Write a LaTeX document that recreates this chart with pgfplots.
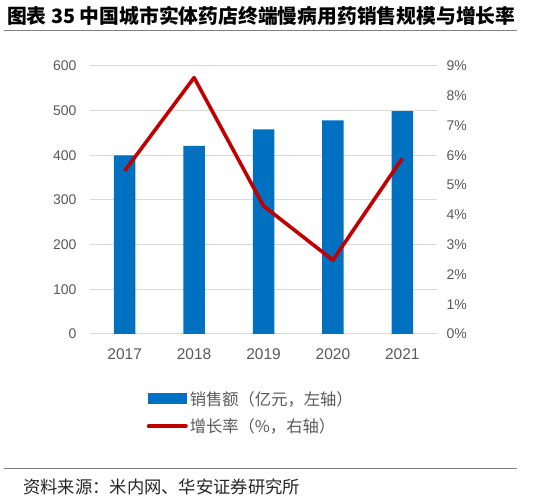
\documentclass[border=0pt]{standalone}
\usepackage{pgfplots}
\pgfplotsset{compat=1.18}
\usepackage{fontspec}
\setmainfont{Liberation Sans}
\newfontfamily\cjk{Noto Sans CJK SC}
\definecolor{barblue}{HTML}{0070C0}
\definecolor{linered}{HTML}{C00000}
\definecolor{txtgray}{HTML}{595959}
\definecolor{gridgray}{HTML}{D9D9D9}
\definecolor{rulegray}{HTML}{808080}

\begin{document}
\begin{tikzpicture}[x=1bp,y=1bp]
\path[use as bounding box] (0,0) rectangle (541,499);
% title
\node[anchor=west, inner sep=0] at (7,483) {\cjk\bfseries\fontsize{19.8bp}{24bp}\selectfont 图表 35 中国城市实体药店终端慢病用药销售规模与增长率};
\draw[rulegray, line width=1.5bp] (4,468.3) -- (517,468.3);
% source
\draw[rulegray, line width=1.5bp] (4,30.5) -- (517,30.5);
\node[anchor=west, inner sep=0, text=black!85] at (23,12.5) {\cjk\fontsize{17.3bp}{20bp}\selectfont 资料来源：米内网、华安证券研究所};

\begin{axis}[
  at={(90bp,165bp)}, anchor=south west, scale only axis,
  width=347bp, height=268bp,
  xmin=-0.5, xmax=4.5, ymin=0, ymax=600,
  xtick={0,1,2,3,4}, xticklabels={2017,2018,2019,2020,2021},
  ytick={0,100,...,600},
  ymajorgrids, grid style={gridgray, line width=1bp},
  axis line style={draw=none}, tick style={draw=none}, major tick length=0pt,
  /pgf/number format/assume math mode=true,
  yticklabel style={font=\fontsize{14bp}{16bp}\selectfont, text=txtgray, xshift=-10bp},
  xticklabel style={font=\fontsize{15.5bp}{18bp}\selectfont, text=txtgray, yshift=-11bp},
  legend style={at={(0.163,-0.205)}, anchor=north west, draw=none, fill=none,
    font=\cjk\fontsize{16.3bp}{18bp}\selectfont, text=txtgray,
    row sep=8bp, inner sep=0pt},
  legend cell align=left,
]
\addplot[ybar, bar width=21.5bp, fill=barblue, draw=none,
  legend image code/.code={\fill[barblue] (0bp,-5.5bp) rectangle (39bp,5.5bp);}]
  coordinates {(0,400) (1,421) (2,458) (3,478) (4,499)};
\addlegendentry{销售额（亿元，左轴）}
\addlegendimage{legend image code/.code={\draw[linered, line width=4bp, line cap=round] (1bp,0bp) -- (38bp,0bp);}}
\addlegendentry{增长率（\%，右轴）}
\end{axis}

\begin{axis}[
  at={(90bp,165bp)}, anchor=south west, scale only axis,
  width=347bp, height=268bp,
  xmin=-0.5, xmax=4.5, ymin=0, ymax=9,
  hide x axis, yticklabel pos=right,
  ytick={0,1,...,9},
  yticklabel={\pgfmathprintnumber{\tick}\%},
  axis line style={draw=none}, tick style={draw=none}, major tick length=0pt,
  /pgf/number format/assume math mode=true,
  yticklabel style={font=\fontsize{14bp}{16bp}\selectfont, text=txtgray, xshift=6bp},
]
\addplot[linered, line width=3.6bp, line join=round]
  coordinates {(0,5.48) (1,8.61) (2,4.30) (3,2.48) (4,5.90)};
\end{axis}
\end{tikzpicture}
\end{document}
